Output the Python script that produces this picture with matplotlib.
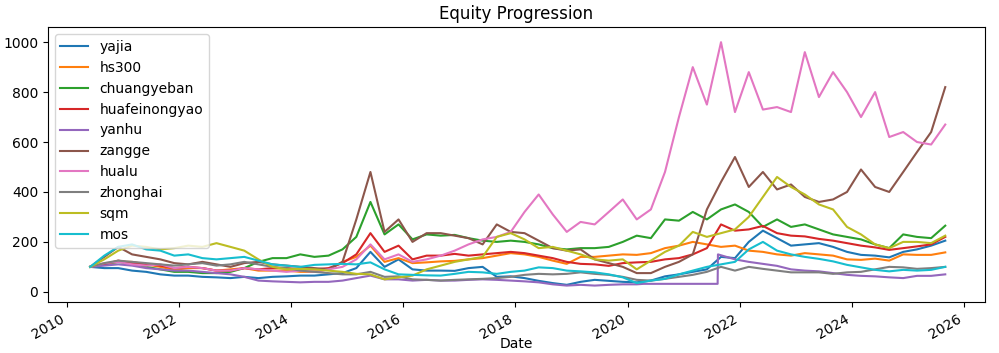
import matplotlib
matplotlib.use("Agg")
import matplotlib.pyplot as plt
import matplotlib.dates as mdates
import pandas as pd

# quarterly sample dates, Jun 2010 .. Sep 2025
dates = pd.date_range("2010-06-01", periods=62, freq="3MS")

yajia = [100, 95, 95, 85, 80, 70, 65, 65, 60, 58, 55, 60, 55, 60, 62, 65, 65, 70, 75, 95,
         160, 100, 130, 90, 85, 85, 84, 95, 100, 60, 62, 55, 44, 35, 28, 40, 48, 44, 40, 38,
         45, 62, 70, 80, 90, 140, 135, 200, 245, 215, 185, 190, 195, 180, 160, 148, 145, 138, 160, 170,
         185, 205]
hs300 = [100, 110, 120, 120, 110, 100, 88, 95, 95, 85, 90, 95, 85, 85, 85, 80, 80, 90, 120, 140,
         185, 120, 135, 115, 118, 122, 124, 130, 135, 145, 155, 150, 140, 125, 112, 140, 140, 145, 150, 148,
         155, 175, 185, 200, 190, 180, 185, 165, 160, 150, 145, 155, 150, 145, 130, 128, 133, 125, 150, 148,
         148, 158]
chuangyeban = [100, 110, 120, 110, 100, 90, 80, 80, 75, 75, 80, 95, 120, 135, 135, 150, 140, 145, 170, 220,
               360, 230, 270, 210, 230, 225, 228, 215, 205, 200, 205, 200, 190, 175, 170, 175, 175, 180, 200, 225,
               215, 290, 285, 320, 290, 330, 350, 320, 260, 290, 260, 270, 250, 230, 220, 210, 190, 175, 230, 220,
               215, 265]
huafeinongyao = [100, 110, 125, 115, 110, 105, 95, 100, 95, 85, 85, 95, 90, 95, 95, 90, 90, 95, 115, 150,
                 235, 160, 185, 130, 145, 145, 152, 145, 150, 155, 160, 155, 145, 135, 120, 112, 110, 104, 115, 118,
                 120, 130, 135, 150, 175, 270, 245, 250, 264, 235, 225, 222, 212, 205, 195, 185, 178, 168, 175, 182,
                 190, 220]
zangge = [100, 140, 180, 150, 140, 130, 115, 110, 120, 110, 100, 115, 120, 110, 105, 100, 95, 90, 120, 290,
          480, 240, 290, 200, 235, 235, 225, 215, 190, 270, 240, 235, 205, 175, 165, 170, 130, 115, 100, 75,
          75, 100, 120, 150, 330, 440, 540, 420, 480, 410, 430, 380, 360, 370, 400, 490, 420, 400, 480, 560,
          640, 820]
hualu = [100, 115, 120, 110, 105, 110, 95, 100, 95, 85, 85, 95, 90, 85, 80, 85, 80, 90, 100, 130,
         190, 130, 150, 120, 130, 145, 165, 190, 210, 220, 240, 320, 390, 310, 240, 280, 270, 320, 370, 290,
         330, 480, 700, 900, 750, 1000, 720, 880, 730, 740, 720, 960, 780, 880, 800, 700, 800, 620, 640, 600,
         590, 670]
zhonghai = [100, 115, 125, 120, 115, 110, 105, 110, 115, 105, 110, 120, 110, 100, 95, 85, 80, 75, 70, 70,
            80, 60, 62, 50, 48, 45, 48, 50, 52, 55, 60, 68, 72, 70, 72, 78, 72, 68, 60, 48,
            45, 52, 60, 68, 80, 100, 85, 100, 92, 85, 78, 78, 78, 72, 78, 80, 90, 100, 98, 92,
            95, 100]
sqm = [100, 130, 165, 185, 180, 170, 175, 185, 180, 195, 180, 165, 130, 100, 90, 92, 90, 85, 80, 72,
       70, 50, 58, 65, 90, 105, 120, 130, 140, 220, 235, 210, 175, 180, 165, 150, 130, 125, 130, 90,
       125, 160, 185, 240, 220, 235, 250, 300, 380, 460, 420, 390, 350, 330, 260, 230, 190, 175, 200, 200,
       195, 225]
mos = [100, 145, 180, 190, 170, 165, 145, 150, 135, 130, 135, 140, 125, 110, 105, 100, 108, 110, 112, 110,
       118, 90, 70, 68, 66, 65, 72, 80, 78, 72, 80, 85, 98, 95, 85, 82, 78, 70, 58, 35,
       45, 52, 70, 85, 100, 110, 120, 170, 200, 165, 150, 140, 132, 122, 108, 98, 88, 82, 88, 85,
       88, 100]

# yanhu was flat for a while then jumped, so it gets its own dates
yanhu_dates = list(dates[:40]) + [pd.Timestamp("2020-04-15"), pd.Timestamp("2021-08-10"),
                                  pd.Timestamp("2021-08-12")] + list(dates[46:])
yanhu = [100, 105, 110, 105, 95, 90, 85, 85, 80, 75, 70, 60, 45, 42, 40, 38, 40, 40, 45, 55,
         65, 50, 50, 45, 48, 45, 45, 48, 50, 48, 45, 42, 38, 30, 25, 28, 25, 28, 30, 30,
         32, 32, 150,
         130, 120, 112, 104, 90, 85, 82, 75, 68, 64, 62, 58, 55, 64, 64, 70]

series = [
    ("yajia", dates, yajia),
    ("hs300", dates, hs300),
    ("chuangyeban", dates, chuangyeban),
    ("huafeinongyao", dates, huafeinongyao),
    ("yanhu", yanhu_dates, yanhu),
    ("zangge", dates, zangge),
    ("hualu", dates, hualu),
    ("zhonghai", dates, zhonghai),
    ("sqm", dates, sqm),
    ("mos", dates, mos),
]

fig, ax = plt.subplots(figsize=(9.99, 3.53), dpi=100)
fig.subplots_adjust(left=0.048, right=0.986, top=0.923, bottom=0.145)

for name, x, y in series:
    ax.plot(x, y, label=name)

ax.set_title("Equity Progression")
ax.set_xlabel("Date", labelpad=-3)
ax.xaxis.set_major_locator(mdates.YearLocator(2))
ax.xaxis.set_major_formatter(mdates.DateFormatter("%Y"))
ax.set_xlim(pd.Timestamp("2009-08-30"), pd.Timestamp("2026-05-18"))
ax.set_ylim(-40, 1060)
for lbl in ax.get_xticklabels():
    lbl.set_rotation(30)
    lbl.set_ha("right")
ax.legend(loc="upper left")

fig.savefig("out.png", dpi=100)
